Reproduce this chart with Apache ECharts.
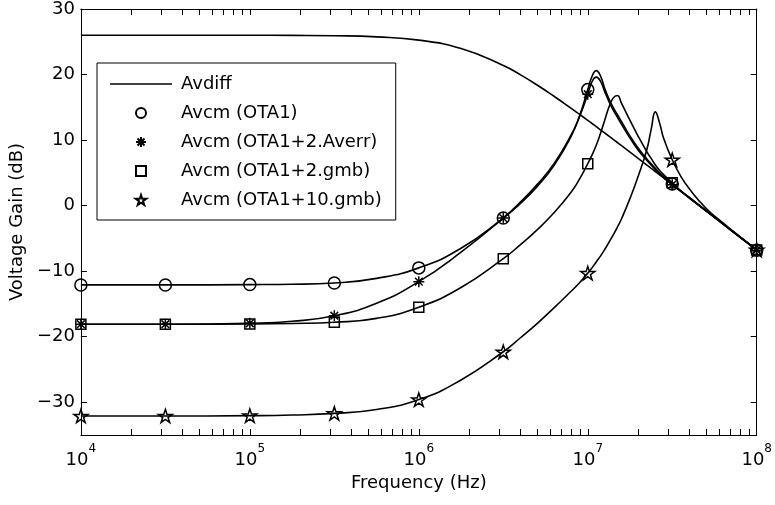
<!DOCTYPE html>
<html><head><meta charset="utf-8">
<script src="https://cdn.jsdelivr.net/npm/echarts@6/dist/echarts.min.js"></script>
<style>html,body{margin:0;padding:0;background:#fff}#c{width:775px;height:505px}</style>
</head><body><div id="c"></div>
<script>
// x values are log10(frequency / Hz)
const logFreq = [4.0, 4.5, 5.0, 5.25, 5.5, 5.75, 6.0, 6.25, 6.5, 6.6, 6.7, 6.8, 6.9, 6.95, 7.0, 7.025, 7.05, 7.075, 7.1, 7.125, 7.15, 7.175, 7.2, 7.25, 7.3, 7.35, 7.375, 7.4, 7.425, 7.45, 7.5, 7.55, 7.6, 7.7, 7.8, 7.9, 8.0];
const avdiff = [26.0, 26.0, 25.99, 25.97, 25.92, 25.75, 25.25, 23.96, 21.39, 19.98, 18.40, 16.69, 14.88, 13.95, 13.01, 12.53, 12.06, 11.57, 11.09, 10.61, 10.12, 9.63, 9.14, 8.16, 7.18, 6.19, 5.69, 5.20, 4.70, 4.21, 3.21, 2.21, 1.22, -0.77, -2.77, -4.77, -6.77];
const avcmOta1 = [-12.1, -12.1, -12.05, -12.0, -11.8, -11.1, -9.5, -6.5, -1.9, 0.3, 2.9, 6.1, 10.5, 13.6, 17.7, 19.7, 20.6, 19.8, 17.9, 16.3, 15.0, 13.9, 12.8, 10.6, 8.7, 7.1, 6.4, 5.7, 5.0, 4.4, 3.3, 2.2, 1.2, -0.8, -2.8, -4.8, -6.8];
const avcmAverr = [-18.1, -18.1, -17.95, -17.65, -16.8, -14.9, -11.6, -7.1, -1.9, 0.5, 3.2, 6.4, 10.7, 13.5, 17.0, 18.9, 19.6, 19.0, 17.4, 15.9, 14.6, 13.5, 12.4, 10.3, 8.4, 6.9, 6.2, 5.5, 4.9, 4.3, 3.2, 2.2, 1.2, -0.8, -2.8, -4.8, -6.8];
const avcmGmb2 = [-18.1, -18.1, -18.07, -17.99, -17.8, -17.2, -15.5, -12.5, -8.1, -6.0, -3.7, -1.1, 2.0, 4.0, 6.4, 7.7, 9.2, 11.0, 13.0, 15.0, 16.4, 16.8, 15.6, 13.0, 10.5, 8.2, 7.2, 6.2, 5.4, 4.7, 3.5, 2.3, 1.3, -0.75, -2.77, -4.77, -6.77];
const avcmGmb10 = [-32.1, -32.1, -32.05, -31.95, -31.7, -31.1, -29.6, -26.6, -22.3, -20.2, -18.0, -15.6, -13.1, -11.8, -10.3, -9.5, -8.6, -7.7, -6.7, -5.6, -4.5, -3.3, -2.0, 1.1, 4.6, 8.6, 11.6, 14.3, 12.6, 10.2, 7.0, 4.5, 2.6, -0.4, -2.65, -4.72, -6.75];
const markerLogFreq = [4, 4.5, 5, 5.5, 6, 6.5, 7, 7.5, 8];
const xTickExp = [4, 5, 6, 7, 8];
const yTicks = [-30, -20, -10, 0, 10, 20, 30];
const names = ['Avdiff', 'Avcm (OTA1)', 'Avcm (OTA1+2.Averr)', 'Avcm (OTA1+2.gmb)', 'Avcm (OTA1+10.gmb)'];

const FONT = 'DejaVu Sans';
const minorTicks = [];
for (let d = 4; d < 8; d++) for (let k = 2; k <= 9; k++) minorTicks.push(d + Math.log10(k));

const pairs = arr => logFreq.map((x, i) => [x, arr[i]]);
const marks = arr => markerLogFreq.map(x => [x, arr[logFreq.indexOf(x)]]);

const STAR = 'path://M50 0 L61.2 34.5 L97.6 34.5 L68.2 55.9 L79.4 90.5 L50 69.1 L20.6 90.5 L31.8 55.9 L2.4 34.5 L38.8 34.5 Z';
const AST = 'path://M50 0 L50 100 M0 50 L100 50 M15 15 L85 85 M15 85 L85 15';
const SQUARE = 'path://M0 0 L100 0 L100 100 L0 100 Z';
const LINEICON = 'path://M0 0 L62 0 L62 1.6 L0 1.6 Z';

const lineStyle = {color: '#000', width: 1.6};
function curve(name, arr) {
  return {type: 'line', name: name, data: pairs(arr), smooth: 0.5, symbol: 'none', showSymbol: false,
    lineStyle: lineStyle, itemStyle: {color: '#000'}, z: 2};
}
function markers(name, arr, symbol, size) {
  return {type: 'scatter', name: name, data: marks(arr), symbol: symbol, symbolSize: size, symbolKeepAspect: true,
    itemStyle: {color: 'rgba(0,0,0,0)', borderColor: '#000', borderWidth: 1.5, opacity: 1}, z: 3};
}

const common = {type: 'value', min: 4, max: 8, splitLine: {show: false}};
const tickStyle = {color: '#000', width: 1};
const option = {
  animation: false,
  backgroundColor: '#fff',
  grid: {left: 78, right: 15, top: 7, bottom: 70},
  xAxis: [
    Object.assign({}, common, {position: 'bottom',
      axisLine: {show: true, onZero: false, lineStyle: tickStyle},
      axisTick: {inside: true, length: 6, lineStyle: tickStyle, customValues: xTickExp},
      axisLabel: {customValues: xTickExp, margin: 8, color: '#000',
        formatter: v => '{b|10}{s|' + v + '}',
        rich: {b: {fontFamily: FONT, fontSize: 18, lineHeight: 34, color: '#000'},
               s: {fontFamily: FONT, fontSize: 12, lineHeight: 14, verticalAlign: 'top', color: '#000'}}},
      name: 'Frequency (Hz)', nameLocation: 'middle', nameGap: 37,
      nameTextStyle: {fontFamily: FONT, fontSize: 18, color: '#000'}}),
    Object.assign({}, common, {position: 'bottom', axisLine: {show: false, onZero: false},
      axisTick: {inside: true, length: 6, lineStyle: tickStyle, customValues: minorTicks}, axisLabel: {show: false}}),
    Object.assign({}, common, {position: 'top', axisLine: {show: true, onZero: false, lineStyle: tickStyle},
      axisTick: {inside: true, length: 6, lineStyle: tickStyle, customValues: xTickExp}, axisLabel: {show: false}}),
    Object.assign({}, common, {position: 'top', axisLine: {show: false, onZero: false},
      axisTick: {inside: true, length: 6, lineStyle: tickStyle, customValues: minorTicks}, axisLabel: {show: false}})
  ],
  yAxis: [
    {type: 'value', min: -35, max: 30, position: 'left', splitLine: {show: false},
      axisLine: {show: true, onZero: false, lineStyle: tickStyle},
      axisTick: {inside: true, length: 6, lineStyle: tickStyle, customValues: yTicks},
      axisLabel: {customValues: yTicks, margin: 6, fontFamily: FONT, fontSize: 18, color: '#000',
        formatter: v => String(v).replace('-', '\u2212')},
      name: 'Voltage Gain (dB)', nameLocation: 'middle', nameGap: 54, nameRotate: 90,
      nameTextStyle: {fontFamily: FONT, fontSize: 18, color: '#000'}},
    {type: 'value', min: -35, max: 30, position: 'right', splitLine: {show: false},
      axisLine: {show: true, onZero: false, lineStyle: tickStyle},
      axisTick: {inside: true, length: 6, lineStyle: tickStyle, customValues: yTicks},
      axisLabel: {show: false}}
  ],
  legend: {
    orient: 'vertical', left: 97, top: 63, padding: [12, 14, 11, 13], itemGap: 11,
    itemWidth: 62, itemHeight: 10, borderColor: '#000', borderWidth: 1, backgroundColor: '#fff', borderRadius: 0,
    selectedMode: false,
    textStyle: {fontFamily: FONT, fontSize: 18, lineHeight: 18, color: '#000', padding: [0, 0, 0, 4]},
    data: [
      {name: names[0], icon: LINEICON, itemStyle: {color: '#000', borderWidth: 0}},
      {name: names[1]}, {name: names[2]}, {name: names[3]}, {name: names[4]}
    ]
  },
  series: [
    curve(names[0], avdiff),
    curve('c1', avcmOta1),
    curve('c2', avcmAverr),
    curve('c3', avcmGmb2),
    curve('c4', avcmGmb10),
    markers(names[1], avcmOta1, 'circle', 12),
    markers(names[2], avcmAverr, AST, 11),
    markers(names[3], avcmGmb2, SQUARE, 10),
    markers(names[4], avcmGmb10, STAR, 14)
  ]
};
const chart = echarts.init(document.getElementById('c'), null, {renderer: 'canvas'});
chart.setOption(option);
</script>
</body></html>
